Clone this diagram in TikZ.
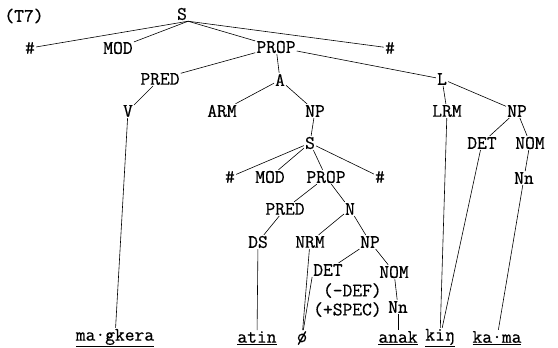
\documentclass[tikz,border=0pt]{standalone}
\usepackage{fontspec}
\setmonofont{Latin Modern Mono}[FakeBold=0.6]
\usepackage{tikz}

\begin{document}
\begin{tikzpicture}[x=1pt,y=-1pt]
    \tikzstyle{every node}=[inner sep=1pt,font=\ttfamily\fontsize{19}{17}\selectfont]
    \tikzstyle{every edge}=[draw,line width=0.6pt]
    \useasboundingbox (0,0) rectangle (558,348);

    \node (t7) at (24,16) {(T7)};
    \node (s) at (182,14) {S};

    \node (h1) at (30,48) {\#};
    \node (mod) at (118,48) {MOD};
    \node (prop) at (276,47) {PROP};
    \node (h2) at (390,48) {\#};

    \node (pred) at (160,79) {PRED};
    \node (a) at (280,80) {A};
    \node (l) at (442,79) {L};

    \node (v) at (128,111) {V};
    \node (arm) at (222,111) {ARM};
    \node (np) at (315,111) {NP};
    \node (lrm) at (447,111) {LRM};
    \node (npl) at (517,111) {NP};

    \node (ss) at (310,143) {S};
    \node (detl) at (482,143) {DET};
    \node (noml) at (530,143) {NOM};
    \node (nnl) at (524,178) {Nn};

    \node (h3) at (230,177) {\#};
    \node (mods) at (270,177) {MOD};
    \node (props) at (326,177) {PROP};
    \node (h4) at (380,177) {\#};

    \node (preds) at (285,209) {PRED};
    \node (n) at (350,209) {N};

    \node (ds) at (258,242) {DS};
    \node (nrm) at (310,242) {NRM};
    \node (npn) at (370,242) {NP};

    \node (detn) at (328,270) {DET};
    \node (nomn) at (394,272) {NOM};
    \node (feat) [align=left,inner sep=0pt,anchor=north west,
        font=\ttfamily\fontsize{19}{19}\selectfont] at (313,283) {~(-DEF)\\(+SPEC)};
    \node (nnn) at (398,307) {Nn};

    % terminal words
    \node (w1) at (115,338) {\underline{ma·gkera}};
    \node (w2) at (257,338) {\underline{atin}};
    \node (w3) at (302,338) {ø};
    \node (w4) at (398,338) {\underline{anak}};
    \node (w5) at (440,338) {\underline{kiŋ}};
    \node (w6) at (497,338) {\underline{ka·ma}};

    \path (s.south east) edge (h1)
          (s.south east) edge (mod)
          (s.south east) edge (prop)
          (s.south east) edge (h2)
          (prop) edge (pred)
          (prop) edge (a)
          (prop) edge (l)
          (pred) edge (v)
          (v) edge (w1)
          (a) edge (arm)
          (a) edge (np)
          (np) edge (ss)
          (ss) edge (h3)
          (ss) edge (mods)
          (ss) edge (props)
          (ss) edge (h4)
          (props) edge (preds)
          (props) edge (n)
          (preds) edge (ds)
          (ds) edge (w2)
          (n) edge (nrm)
          (n) edge (npn)
          (nrm) edge (w3)
          (npn) edge (detn)
          (npn) edge (nomn)
          (detn.south west) edge (w3)
          (nomn) edge (nnn)
          (nnn) edge (w4)
          (l) edge (lrm)
          (l) edge (npl)
          (lrm) edge (w5)
          (npl) edge (detl)
          (npl) edge (noml)
          (detl) edge (w5)
          (noml) edge (nnl)
          (nnl) edge (w6);
\end{tikzpicture}
\end{document}
